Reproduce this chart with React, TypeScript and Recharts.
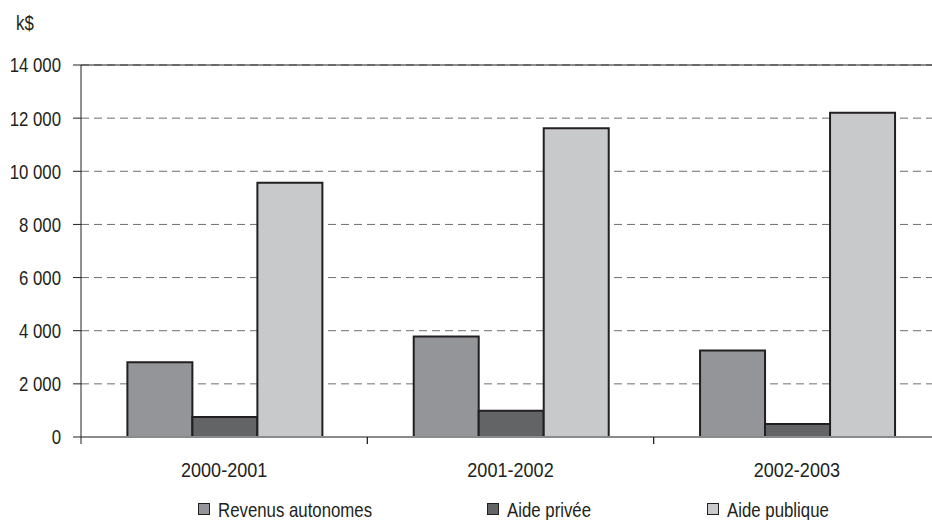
import React from "react";
import { BarChart, Bar, XAxis, YAxis, CartesianGrid, Legend, ReferenceLine } from "recharts";

const categories = ["2000-2001", "2001-2002", "2002-2003"];
const revenusAutonomes = [2810, 3780, 3260];
const aidePrivee = [750, 990, 490];
const aidePublique = [9570, 11620, 12200];
const yTicks = [0, 2000, 4000, 6000, 8000, 10000, 12000, 14000];

const seriesNames = ["Revenus autonomes", "Aide privée", "Aide publique"];
const seriesColors = ["#939598", "#636466", "#c8c9cb"];

const data = categories.map((c, i) => ({
  cat: c,
  rev: revenusAutonomes[i],
  priv: aidePrivee[i],
  pub: aidePublique[i],
}));

const FONT = "'Liberation Sans', Arial, sans-serif";
const INK = "#231f20";
const FS = 21;
const SX = 0.8;
const SX_CAT = 0.86;

const fmt = (v: number) => {
  const s = String(v);
  if (s.length <= 3) return s;
  return s.slice(0, s.length - 3) + " " + s.slice(s.length - 3);
};

const XTick = (props: any) => {
  const { x, y, payload } = props;
  const off = payload && typeof payload.offset === "number" ? payload.offset : 0;
  return (
    <g>
      {off > 0 && (
        <line x1={x - off} x2={x - off} y1={y} y2={y + 7} stroke={INK} strokeWidth={1} />
      )}
      {off > 0 && (
        <line x1={x + off} x2={x + off} y1={y} y2={y + 7} stroke={INK} strokeWidth={1} />
      )}
      <text
        transform={`translate(${x},${y + 25}) scale(${SX_CAT},1)`}
        x={0}
        y={0}
        dy="0.71em"
        textAnchor="middle"
        fill={INK}
        fontSize={FS}
        fontFamily={FONT}
      >
        {payload.value}
      </text>
    </g>
  );
};

const YTick = (props: any) => {
  const { x, y, payload } = props;
  return (
    <text
      transform={`translate(${x},${y}) scale(${SX},1)`}
      x={0}
      y={0}
      dy="0.355em"
      textAnchor="end"
      fill={INK}
      fontSize={FS}
      fontFamily={FONT}
    >
      {fmt(payload.value)}
    </text>
  );
};

const legendLefts = [198, 487, 707];

const LegendContent = () => {
  return (
    <div style={{ position: "relative", height: 40, width: "100%" }}>
      {seriesNames.map((name, i) => (
        <div key={i} style={{ position: "absolute", left: legendLefts[i], top: 18, height: 23, display: "flex", alignItems: "flex-start" }}>
          <div
            style={{
              width: 10,
              height: 10,
              marginTop: 5,
              background: seriesColors[i],
              border: `1.5px solid ${INK}`,
              flex: "none",
            }}
          />
          <span
            style={{
              marginLeft: 8,
              fontSize: FS,
              lineHeight: "23px",
              color: INK,
              fontFamily: FONT,
              whiteSpace: "nowrap",
              display: "inline-block",
              transform: `scaleX(${SX})`,
              transformOrigin: "left center",
            }}
          >
            {name}
          </span>
        </div>
      ))}
    </div>
  );
};

export default function App() {
  return (
    <div style={{ position: "absolute", left: 0, top: 0, width: 932, height: 520, overflow: "hidden", background: "#fff" }}>
      <div
        style={{
          position: "absolute",
          left: 16,
          top: 11,
          fontSize: FS,
          lineHeight: "23px",
          color: INK,
          fontFamily: FONT,
          transform: `scaleX(${SX})`,
          transformOrigin: "left center",
        }}
      >
        k$
      </div>
      <BarChart
        width={950}
        height={520}
        data={data}
        margin={{ top: 65, right: 10, left: 0, bottom: 0 }}
        barCategoryGap="16.2%"
        barGap={0}
      >
        <CartesianGrid vertical={false} stroke="#6d6e71" strokeDasharray="8 5" />
        <XAxis
          dataKey="cat"
          height={43}
          tickLine={false}
          tickSize={0}
          tickMargin={0}
          axisLine={{ stroke: "#8a8b8d", strokeWidth: 2 }}
          tick={<XTick />}
          interval={0}
        />
        <YAxis
          width={81}
          domain={[0, 14000]}
          ticks={yTicks}
          tickSize={8}
          tickMargin={12}
          axisLine={{ stroke: INK }}
          tickLine={{ stroke: INK }}
          tick={<YTick />}
          interval={0}
        />
        <ReferenceLine y={14000} stroke={INK} strokeWidth={1.2} />
        <Legend verticalAlign="bottom" height={40} content={<LegendContent />} />
        <Bar dataKey="rev" name={seriesNames[0]} fill={seriesColors[0]} stroke={INK} strokeWidth={2} isAnimationActive={false} />
        <Bar dataKey="priv" name={seriesNames[1]} fill={seriesColors[1]} stroke={INK} strokeWidth={2} isAnimationActive={false} />
        <Bar dataKey="pub" name={seriesNames[2]} fill={seriesColors[2]} stroke={INK} strokeWidth={2} isAnimationActive={false} />
      </BarChart>
    </div>
  );
}
